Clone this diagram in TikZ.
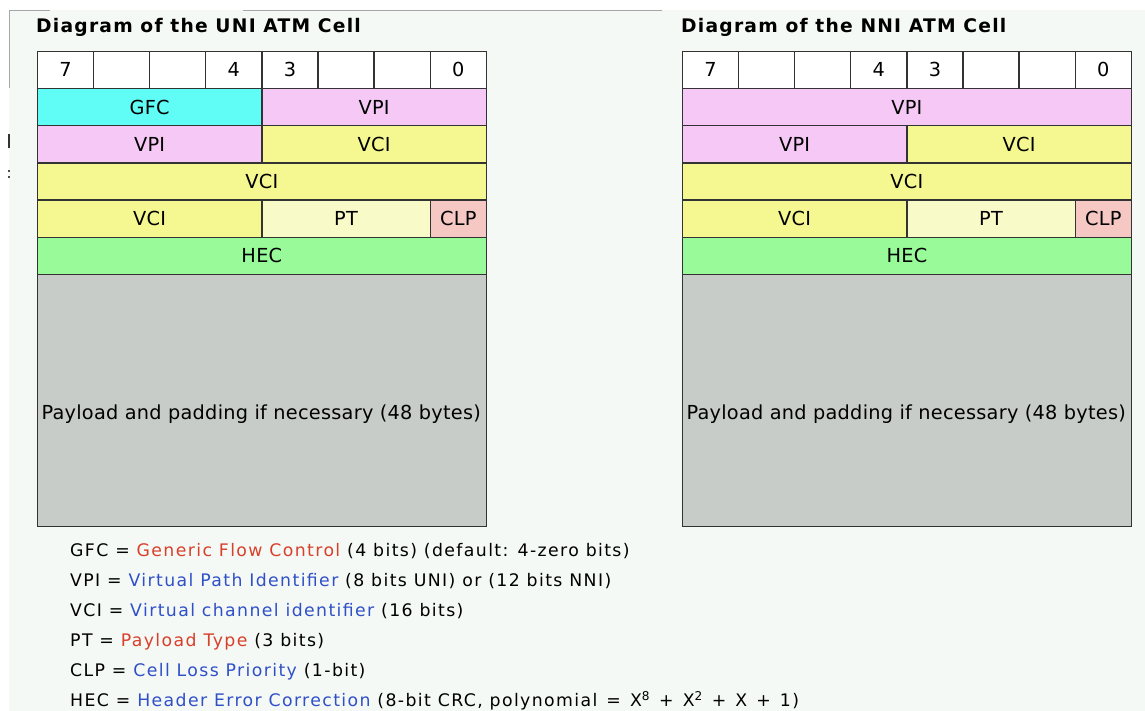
\documentclass[tikz,border=0pt]{standalone}
\usepackage{fontspec}
\setmainfont{DejaVu Sans}
\newfontfamily\legfont{DejaVu Sans}[LetterSpace=8]
\newfontfamily\titfont{DejaVu Sans}[LetterSpace=6.5]
\newfontfamily\cellfont{DejaVu Sans}[LetterSpace=1.4]
\definecolor{pagebg}{HTML}{F5F9F6}
\definecolor{cellline}{HTML}{333333}
\definecolor{gfccol}{HTML}{60FCF6}
\definecolor{vpicol}{HTML}{F5C8F5}
\definecolor{vcicol}{HTML}{F5F790}
\definecolor{ptcol}{HTML}{F8FAC8}
\definecolor{clpcol}{HTML}{F5C8C4}
\definecolor{heccol}{HTML}{98FA98}
\definecolor{paycol}{HTML}{C8CCC8}
\definecolor{legred}{HTML}{D8402A}
\definecolor{legblue}{HTML}{3050C8}
\def\cw{56.125}
\def\rh{37.2}
\newcommand\cellbox[7]{%
  \node[cell, fill=#6, minimum width={#4*\cw pt}, minimum height={\rh pt}] (#1) at ({#2+#3*\cw},{50.7+#5*\rh}) {#7};}
\newcommand\polyop[1]{\hspace{2.2pt}#1\hspace{2.2pt}}
\begin{document}
\begin{tikzpicture}[x=1pt,y=-1pt,
  cell/.style={draw=cellline, line width=1.3pt, inner sep=0pt, anchor=north west,
    font=\fontsize{19.3}{20}\cellfont, text height=14.07pt, text depth=0pt},
  paybox/.style={draw=cellline, line width=1.3pt, inner sep=0pt, anchor=north west, fill=paycol},
  paytext/.style={anchor=base, inner sep=0pt, font=\fontsize{19.3}{20}\cellfont},
  titletext/.style={anchor=base west, inner sep=0pt, font=\fontsize{18.7}{20}\titfont\bfseries},
  legtext/.style={anchor=base west, inner sep=0pt, font=\fontsize{17.3}{20}\legfont},
  artifact/.style={draw=black!35, line width=0.8pt}]
\useasboundingbox (0,0) rectangle (1145,711);
\fill[white] (0,0) rectangle (1145,711);
\fill[pagebg] (9,10) rectangle (1145,711);
\draw[artifact] (9,10) -- (50,10);
\draw[artifact] (243,10) -- (662,10);
\draw[artifact] (9,10) -- (9,88);
\fill[black!80] (8,134) rectangle (10,148);
\fill[black!70] (8,170) rectangle (10,172);
\fill[black!70] (8,176) rectangle (10,178);
% ---------- UNI ----------
\node[titletext] (unititle) at (36,32.5) {Diagram of the UNI ATM Cell};
\cellbox{u07}{36.7}{0}{1}{0}{white}{7}
\cellbox{u06}{36.7}{1}{1}{0}{white}{}
\cellbox{u05}{36.7}{2}{1}{0}{white}{}
\cellbox{u04}{36.7}{3}{1}{0}{white}{4}
\cellbox{u03}{36.7}{4}{1}{0}{white}{3}
\cellbox{u02}{36.7}{5}{1}{0}{white}{}
\cellbox{u01}{36.7}{6}{1}{0}{white}{}
\cellbox{u00}{36.7}{7}{1}{0}{white}{0}
\cellbox{ugfc}{36.7}{0}{4}{1}{gfccol}{GFC}
\cellbox{uvpia}{36.7}{4}{4}{1}{vpicol}{VPI}
\cellbox{uvpib}{36.7}{0}{4}{2}{vpicol}{VPI}
\cellbox{uvcia}{36.7}{4}{4}{2}{vcicol}{VCI}
\cellbox{uvcib}{36.7}{0}{8}{3}{vcicol}{VCI}
\cellbox{uvcic}{36.7}{0}{4}{4}{vcicol}{VCI}
\cellbox{upt}{36.7}{4}{3}{4}{ptcol}{PT}
\cellbox{uclp}{36.7}{7}{1}{4}{clpcol}{CLP}
\cellbox{uhec}{36.7}{0}{8}{5}{heccol}{HEC}
\node[paybox, minimum width=449pt, minimum height=251.8pt] (upay) at (36.7,273.9) {};
\node[paytext] (upaytext) at (261.2,419) {Payload and padding if necessary (48 bytes)};
% ---------- NNI ----------
\node[titletext] (nnititle) at (681,32.5) {Diagram of the NNI ATM Cell};
\cellbox{n07}{681.7}{0}{1}{0}{white}{7}
\cellbox{n06}{681.7}{1}{1}{0}{white}{}
\cellbox{n05}{681.7}{2}{1}{0}{white}{}
\cellbox{n04}{681.7}{3}{1}{0}{white}{4}
\cellbox{n03}{681.7}{4}{1}{0}{white}{3}
\cellbox{n02}{681.7}{5}{1}{0}{white}{}
\cellbox{n01}{681.7}{6}{1}{0}{white}{}
\cellbox{n00}{681.7}{7}{1}{0}{white}{0}
\cellbox{nvpia}{681.7}{0}{8}{1}{vpicol}{VPI}
\cellbox{nvpib}{681.7}{0}{4}{2}{vpicol}{VPI}
\cellbox{nvcia}{681.7}{4}{4}{2}{vcicol}{VCI}
\cellbox{nvcib}{681.7}{0}{8}{3}{vcicol}{VCI}
\cellbox{nvcic}{681.7}{0}{4}{4}{vcicol}{VCI}
\cellbox{npt}{681.7}{4}{3}{4}{ptcol}{PT}
\cellbox{nclp}{681.7}{7}{1}{4}{clpcol}{CLP}
\cellbox{nhec}{681.7}{0}{8}{5}{heccol}{HEC}
\node[paybox, minimum width=449pt, minimum height=251.8pt] (npay) at (681.7,273.9) {};
\node[paytext] (npaytext) at (906.2,419) {Payload and padding if necessary (48 bytes)};
% ---------- legend ----------
\node[legtext] (lgfc) at (70,556.7) {GFC = \textcolor{legred}{Generic Flow Control} (4 bits) (default: 4-zero bits)};
\node[legtext] (lvpi) at (70,586.7) {VPI = \textcolor{legblue}{Virtual Path Identifier} (8 bits UNI) or (12 bits NNI)};
\node[legtext] (lvci) at (70,616.7) {VCI = \textcolor{legblue}{Virtual channel identifier} (16 bits)};
\node[legtext] (lpt) at (70,646.7) {PT = \textcolor{legred}{Payload Type} (3 bits)};
\node[legtext] (lclp) at (70,676.7) {CLP = \textcolor{legblue}{Cell Loss Priority} (1-bit)};
\node[legtext] (lhec) at (70,706.7) {HEC = \textcolor{legblue}{Header Error Correction} (8-bit CRC, polynomial \polyop{=} X\textsuperscript{8} \polyop{+} X\textsuperscript{2} \polyop{+} X \polyop{+} 1)};
\end{tikzpicture}
\end{document}
